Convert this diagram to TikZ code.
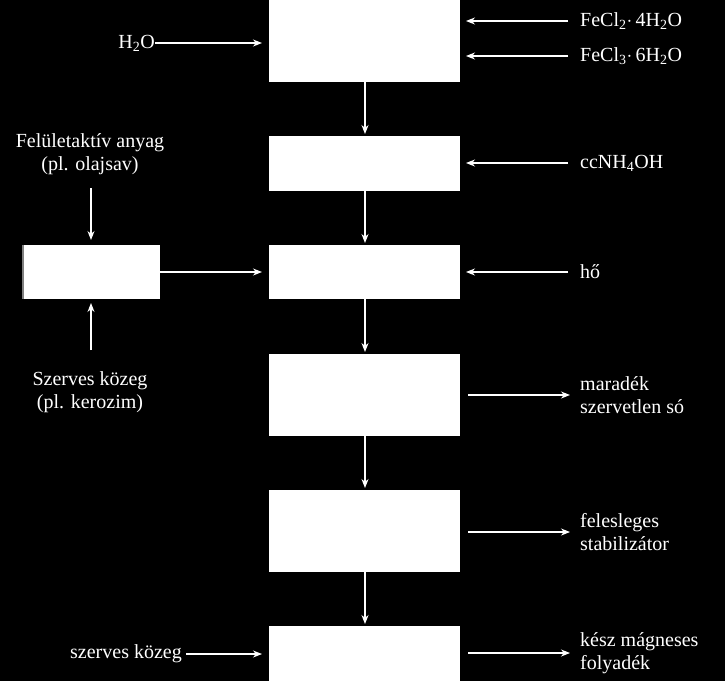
\documentclass[tikz,border=0pt]{standalone}
\usepackage{fontspec}
\setmainfont{Liberation Serif}
\usetikzlibrary{arrows.meta}
\begin{document}
\begin{tikzpicture}[x=1pt,y=-1pt,
  box/.style={fill=white,draw=none},
  lbl/.style={text=white,font=\fontsize{20}{23}\selectfont,inner sep=0pt},
  arr/.style={draw=white,line width=1.2pt,-{Stealth[length=9pt,width=7pt]}}]
\fill[black] (0,0) rectangle (725,681);
\useasboundingbox (0,0) rectangle (725,681);
\fill[box] (269,0) rectangle (460,82) coordinate (b1e);
\node[inner sep=0] (b1) at (364.5,41) {};
\fill[box] (269,136) rectangle (460,191);
\fill[box] (269,245) rectangle (460,299);
\fill[box] (269,354) rectangle (460,436);
\fill[box] (269,490) rectangle (460,572);
\fill[box] (269,626) rectangle (460,681);
\fill[box] (22,245) rectangle (160,299);
\draw[gray,line width=1.5pt] (23,245) -- (23,299);
% named coordinates
\foreach \n/\a/\b in {v1/82/134, v2/191/243, v3/299/352, v4/436/488, v5/572/624}{
  \coordinate (\n s) at (365,\a); \coordinate (\n e) at (365,\b);
  \draw[arr] (\n s) -- (\n e);}
\node[lbl,anchor=east] (h2o) at (155,43) {H\textsubscript{2}O};
\coordinate (h2oe) at (262,43);
\draw[arr] (h2o) -- (h2oe);
\node[lbl,anchor=west] (fe2) at (580,21) {FeCl\textsubscript{2}$\cdot$\,4H\textsubscript{2}O};
\node[lbl,anchor=west] (fe3) at (580,56) {FeCl\textsubscript{3}$\cdot$\,6H\textsubscript{2}O};
\node[lbl,anchor=west] (nh) at (580,163) {ccNH\textsubscript{4}OH};
\node[lbl,anchor=west] (ho) at (580,272) {hő};
\foreach \y/\n in {21/fe2,56/fe3,163/nh,272/ho}{
  \coordinate (t\n) at (466,\y);
  \draw[arr] (568,\y) -- (t\n);}
\node[lbl,anchor=west,align=left] (mar) at (580,395) {maradék\\szervetlen só};
\node[lbl,anchor=west,align=left] (fel) at (580,532) {felesleges\\stabilizátor};
\node[lbl,anchor=west,align=left] (kesz) at (580,653) {kész mágneses\\folyadék};
\foreach \y/\n in {395/mar,532/fel,653/kesz}{
  \coordinate (s\n) at (468,\y);
  \draw[arr] (s\n) -- (570,\y);}
\node[lbl,align=center] (surf) at (90,154) {Felületaktív anyag\\(pl. olajsav)};
\node[lbl,align=center] (szer) at (90,392) {Szerves közeg\\(pl. kerozim)};
\draw[arr] (91,188) -- (91,240);
\draw[arr] (91,350) -- (91,303);
\draw[arr] (160,272) -- (262,272);
\node[lbl,anchor=east] (szk) at (182,654) {szerves közeg};
\draw[arr] (szk.east) ++(4,0) -- (262,654);
\end{tikzpicture}
\end{document}
